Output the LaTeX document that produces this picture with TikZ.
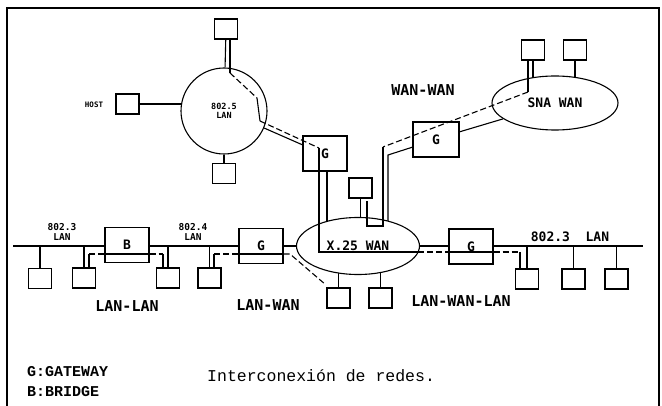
\documentclass[tikz,border=0pt]{standalone}
\usepackage{fontspec}
\setmonofont{Liberation Mono}
\newfontfamily\dotfont{DejaVu Sans Mono}
\usetikzlibrary{shapes.geometric,backgrounds}

\begin{document}
\begin{tikzpicture}[x=1pt, y=-1pt,
  termbox/.style={draw, fill=white, line width=1.1pt,
    minimum width=23pt, minimum height=20pt, inner sep=0pt},
  gatebox/.style={draw, fill=white, line width=1.1pt,
    minimum width=44pt, minimum height=35pt, inner sep=0pt,
    font=\dotfont\bfseries\fontsize{13}{13}\selectfont},
  lanring/.style={draw, circle, fill=white, line width=1.1pt,
    minimum size=86pt, inner sep=0pt, align=center,
    font=\dotfont\bfseries\fontsize{8.5}{8.5}\selectfont},
  wannet/.style={draw, ellipse, fill=white, line width=1.1pt, inner sep=0pt,
    font=\dotfont\bfseries\fontsize{13}{13}\selectfont},
  link/.style={line width=1.1pt},
  trace/.style={line width=1.1pt},
  tracedash/.style={line width=1.1pt, dash pattern=on 6pt off 3pt},
  biglbl/.style={inner sep=0pt, font=\dotfont\bfseries\fontsize{15}{15}\selectfont},
  midlbl/.style={inner sep=0pt, font=\dotfont\bfseries\fontsize{13}{13}\selectfont},
  smalllbl/.style={inner sep=0pt, align=center,
    font=\dotfont\bfseries\fontsize{9.5}{9.5}\selectfont},
  keylbl/.style={inner sep=0pt, anchor=west,
    font=\ttfamily\bfseries\fontsize{15}{15}\selectfont}
]
\useasboundingbox (0,0) rectangle (662,406);
\draw[line width=1.1pt] (7,406) -- (7,8) -- (659,8) -- (659,406);

% 802.5 ring
\node[lanring] (lan5) at (224,111) {802.5\\LAN};
\node[termbox] (t) at (226,29) {};
\node[termbox] (host) at (127.5,104) {};
\node[termbox] (b5bot) at (224,173.5) {};
\node[smalllbl, font=\dotfont\bfseries\fontsize{7.5}{7.5}\selectfont] (hostlbl) at (94,105) {HOST};

% gateways and WANs
\node[gatebox] (g1) at (325,153.5) {G};
\node[gatebox, minimum width=46pt] (g2) at (436,139.5) {G};
\node[wannet, minimum width=126pt, minimum height=54pt] (sna) at (555,103) {SNA WAN};
\node[termbox] (s1) at (533,50) {};
\node[termbox] (s2) at (575,50) {};
\node[wannet, minimum width=123pt, minimum height=57pt] (x25) at (358,246) {X.25 WAN};
\node[termbox] (xtop) at (360.5,188) {};
\node[termbox] (xb1) at (338.5,298) {};
\node[termbox] (xb2) at (380.5,298) {};

% buses
\coordinate (busL) at (13,246);
\coordinate (busR) at (643,246);
\node[gatebox] (bb) at (127,245) {B};
\node[gatebox] (g3) at (261,246) {G};
\node[gatebox] (g4) at (471,246.5) {G};
\node[termbox] (l1) at (40,278.5) {};
\node[termbox] (l2) at (84,278) {};
\node[termbox] (l3) at (168,278) {};
\node[termbox] (l4) at (209.5,278) {};
\node[termbox] (r1) at (527,279) {};
\node[termbox] (r2) at (573.5,279) {};
\node[termbox] (r3) at (616.5,279) {};

\begin{scope}[on background layer]
  \draw[link] (busL) -- (x25);
  \draw[link] (x25) -- (busR);
  \draw[link] (t) -- (lan5);
  \draw[link] (host) -- (host -| lan5);
  \draw[link] (lan5) -- (b5bot);
  \draw[link] (lan5.-23) -- (g1.159);
  \draw[link] ([xshift=2pt]g1.south) -- ([xshift=2pt]g1.south |- x25);
  \coordinate (g2bend) at (388,155);
  \draw[link] (g2.198) -- (g2bend) -- (g2bend |- x25);
  \draw[link] (g2.18) -- (sna.197);
  \draw[link] (s1) -- (s1 |- sna);
  \draw[link] (s2) -- (s2 |- sna);
  \draw[link] (xtop) -- (xtop |- x25);
  \draw[link] (xb1) -- (xb1 |- x25);
  \draw[link] (xb2) -- (xb2 |- x25);
  \foreach \b in {l1,l2,l3,l4}
    \draw[link] (\b) -- (\b |- busL);
  \foreach \b in {r1,r2,r3}
    \draw[link] (\b) -- (\b |- busR);
\end{scope}

% traced routes
\coordinate (p1) at (230,73);
\coordinate (p2) at (257,98);
\coordinate (p3) at (260,121);
\coordinate (p4) at (319,148);
\coordinate (p5) at (319,252);
\coordinate (p6) at (418,252);
\coordinate (p7) at (520,252);
\draw[trace] (t.south -| p1) -- (p1);
\draw[tracedash] (p1) -- (p2);
\draw[trace] (p2) -- (p3);
\draw[tracedash] (p3) -- (p4);
\draw[trace] (p4) -- (p5) -- (p6);
\draw[tracedash] (p6) -- (p6 -| g4.west);
\draw[trace] (p6 -| g4.west) -- (p6 -| g4.east);
\draw[tracedash] (p6 -| g4.east) -- (p7);
\draw[trace] (p7) -- (p7 |- r1.north);

\coordinate (q1) at (89,254);
\coordinate (q2) at (163,254);
\draw[trace] (q1 |- l2.north) -- (q1);
\draw[tracedash] (q1) -- (q1 -| bb.west);
\draw[trace] (q1 -| bb.west) -- (q1 -| bb.east);
\draw[tracedash] (q1 -| bb.east) -- (q2);
\draw[trace] (q2) -- (q2 |- l3.north);

\coordinate (u1) at (214,254);
\coordinate (u2) at (290,254);
\coordinate (u3) at (326,285);
\draw[trace] (u1 |- l4.north) -- (u1);
\draw[tracedash] (u1) -- (u1 -| g3.west);
\draw[trace] (u1 -| g3.west) -- (u1 -| g3.east);
\draw[tracedash] (u1 -| g3.east) -- (u2) -- (u3);

\coordinate (v1) at (528,92);
\coordinate (v2) at (383,147);
\coordinate (v3) at (383,226);
\coordinate (v4) at (367,226);
\coordinate (v5) at (367,201);
\draw[trace] (v1 |- s1.south) -- (v1);
\draw[tracedash] (v1) -- (v2);
\draw[trace] (v2) -- (v3) -- (v4) -- (v5);

% labels
\node[smalllbl] (lbl8023a) at (62,232) {802.3\\LAN};
\node[smalllbl] (lbl8024) at (193,232) {802.4\\LAN};
\node[midlbl] (lbl8023b) at (570,237) {802.3~~LAN};
\node[biglbl] (wanwan) at (423,90) {WAN-WAN};
\node[biglbl] (lanlan) at (127,306) {LAN-LAN};
\node[biglbl] (lanwan) at (268,305) {LAN-WAN};
\node[biglbl] (lanwanlan) at (461,301) {LAN-WAN-LAN};
\node[keylbl] (keyg) at (27,372) {G:GATEWAY};
\node[keylbl] (keyb) at (27,392) {B:BRIDGE};
\node[keylbl, font=\ttfamily\fontsize{16.5}{16.5}\selectfont] (caption) at (207,376) {Interconexión de redes.};
\end{tikzpicture}
\end{document}
